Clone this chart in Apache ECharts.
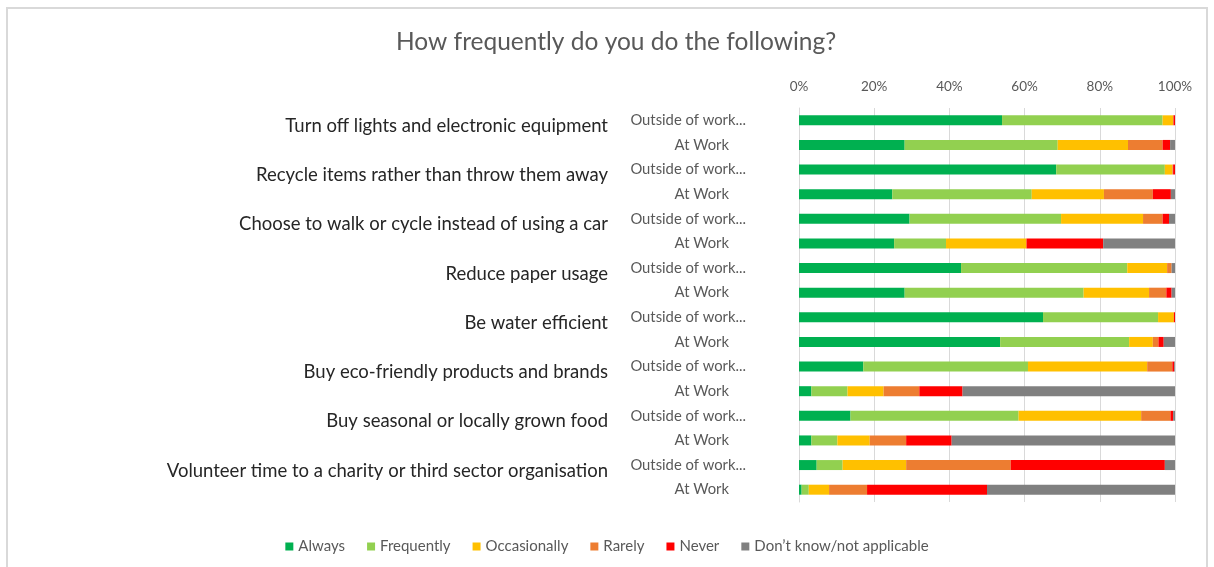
<!DOCTYPE html>
<html>
<head>
<meta charset="utf-8">
<script src="https://cdn.jsdelivr.net/npm/echarts@6/dist/echarts.min.js"></script>
<style>
  html, body { margin: 0; padding: 0; background: #fff; }
  #wrap { position: relative; width: 1214px; height: 567px; overflow: hidden; }
  #frame { position: absolute; left: 6px; top: 7px; width: 1202px; height: 580px; border: 2px solid #d9d9d9; box-sizing: border-box; }
  #chart { position: absolute; left: 0; top: 0; width: 1214px; height: 567px; }
</style>
</head>
<body>
<div id="wrap">
  <div id="frame"></div>
  <div id="chart"></div>
</div>
<script>
const titleText = 'How frequently do you do the following?';
const groups = [
  'Turn off lights and electronic equipment',
  'Recycle items rather than throw them away',
  'Choose to walk or cycle instead of using a car',
  'Reduce paper usage',
  'Be water efficient',
  'Buy eco-friendly products and brands',
  'Buy seasonal or locally grown food',
  'Volunteer time to a charity or third sector organisation'
];
const contexts = ['Outside of work...', 'At Work'];
const seriesNames = ['Always', 'Frequently', 'Occasionally', 'Rarely', 'Never', 'Don\u2019t know/not applicable'];
const seriesColors = ['#00b050', '#92d050', '#ffc000', '#ed7d31', '#ff0000', '#808080'];

// values per series, rows ordered: group1 outside, group1 at work, group2 outside, ...
const always       = [54.0, 28.1, 68.4, 24.8, 29.4, 25.3, 43.1, 28.1, 64.9, 53.5, 17.1, 3.3, 13.7, 3.3, 4.7, 0.7];
const frequently   = [42.7, 40.7, 28.9, 37.1, 40.3, 13.8, 44.2, 47.6, 30.6, 34.3, 43.8, 9.6, 44.7, 6.9, 6.9, 1.9];
const occasionally = [2.8, 18.7, 2.0, 19.2, 21.8, 21.4, 10.6, 17.4, 4.2, 6.3, 31.7, 9.6, 32.6, 8.6, 16.9, 5.4];
const rarely       = [0.1, 9.2, 0.2, 13.0, 5.2, 0.0, 1.2, 4.6, 0.0, 1.5, 6.7, 9.5, 7.8, 9.7, 27.8, 10.1];
const never        = [0.4, 2.0, 0.5, 4.8, 1.7, 20.4, 0.0, 1.4, 0.3, 1.4, 0.5, 11.5, 0.7, 12.1, 41.0, 31.9];
const dontKnow     = [0.0, 1.3, 0.0, 1.1, 1.6, 19.1, 0.9, 0.9, 0.0, 3.0, 0.2, 56.5, 0.5, 59.4, 2.7, 50.0];

const seriesValues = [always, frequently, occasionally, rarely, never, dontKnow];

const rowKeys = [];
groups.forEach((g, gi) => contexts.forEach((c, ci) => rowKeys.push(gi + '|' + ci)));

const FONT = 'Lato, "Open Sans", sans-serif';

const chart = echarts.init(document.getElementById('chart'), null, { renderer: 'canvas' });
chart.setOption({
  animation: false,
  backgroundColor: 'transparent',
  title: {
    text: titleText,
    left: 391,
    top: 25,
    textStyle: { fontFamily: FONT, fontSize: 24.5, fontWeight: 'normal', color: '#595959' }
  },
  legend: {
    bottom: 8,
    left: 'center',
    icon: 'rect',
    itemWidth: 8,
    itemHeight: 8,
    itemGap: 22,
    textStyle: { fontFamily: FONT, fontSize: 15, color: '#595959' },
    data: seriesNames
  },
  grid: { left: 799, right: 39, top: 108, bottom: 65 },
  xAxis: {
    type: 'value',
    position: 'top',
    min: 0, max: 100, interval: 20,
    axisLine: { show: false },
    axisTick: { show: false },
    splitLine: { show: true, lineStyle: { color: '#d9d9d9', width: 1 } },
    axisLabel: {
      formatter: v => v + '%',
      fontFamily: FONT, fontSize: 13.5, color: '#595959', margin: 14
    }
  },
  yAxis: [
    {
      type: 'category',
      inverse: true,
      data: rowKeys,
      axisLine: { show: true, lineStyle: { color: '#d9d9d9' } },
      axisTick: { show: false },
      axisLabel: {
        interval: 0,
        margin: 53,
        formatter: v => {
          const ci = +v.split('|')[1];
          return ci === 0 ? '{o|' + contexts[0] + '}' : '{a|' + contexts[1] + '}';
        },
        rich: {
          o: { fontFamily: FONT, fontSize: 14.8, color: '#595959' },
          a: { fontFamily: FONT, fontSize: 14.8, color: '#595959', padding: [0, 17, 0, 0] }
        }
      }
    },
    {
      type: 'category',
      inverse: true,
      position: 'left',
      offset: 0,
      data: rowKeys,
      axisLine: { show: false },
      axisTick: { show: false },
      axisLabel: {
        interval: 0,
        margin: 191,
        formatter: v => {
          const p = v.split('|');
          return +p[1] === 0 ? '{g|' + groups[+p[0]] + '}' : '';
        },
        rich: {
          g: { fontFamily: FONT, fontSize: 18.5, color: '#262626', lineHeight: 30, verticalAlign: 'bottom' }
        }
      }
    }
  ],
  series: seriesNames.map((name, i) => ({
    name,
    type: 'bar',
    stack: 'total',
    yAxisIndex: 0,
    barWidth: 10,
    itemStyle: { color: seriesColors[i] },
    emphasis: { disabled: true },
    data: seriesValues[i]
  }))
});
</script>
</body>
</html>
